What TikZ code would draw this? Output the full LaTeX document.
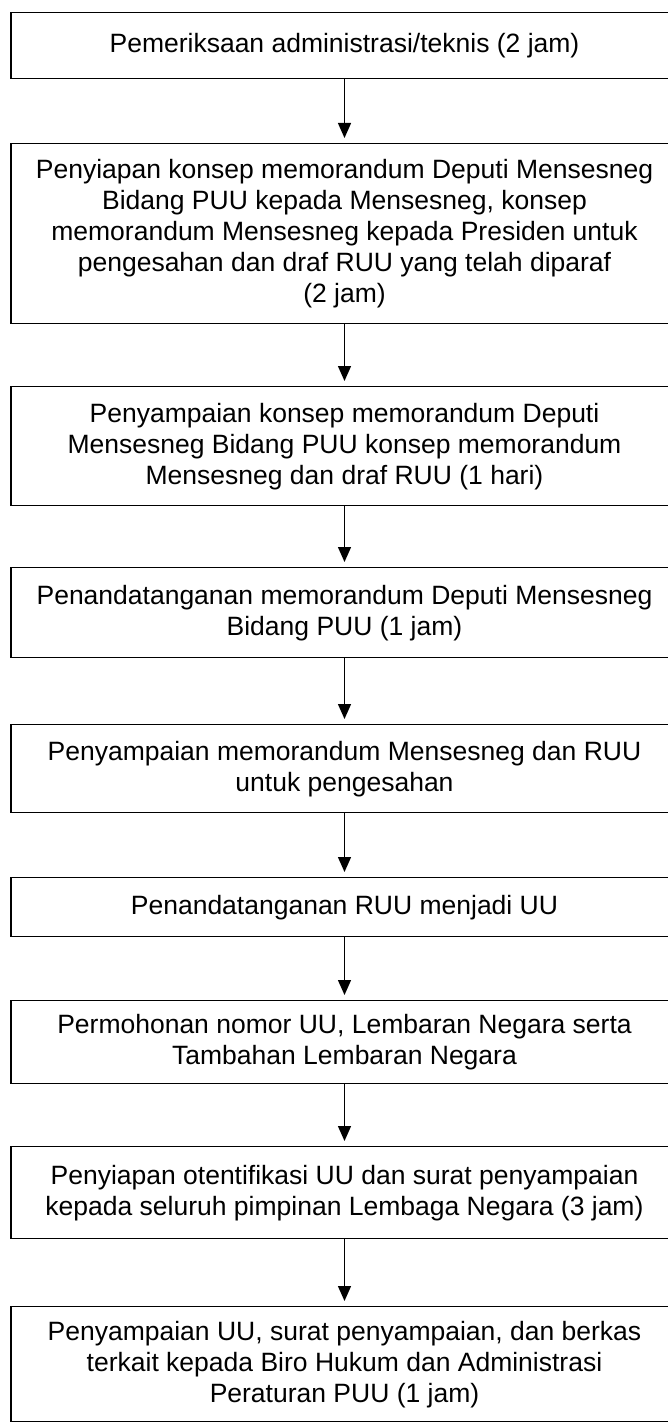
\documentclass[tikz,border=0pt]{standalone}
\usepackage{fontspec}
\setmainfont{Liberation Sans}
\usetikzlibrary{arrows.meta}
\begin{document}
\begin{tikzpicture}[x=1pt,y=1pt,
  box/.style={draw, line width=1.4pt, rectangle, minimum width=667pt, inner sep=0pt,
    align=center, anchor=north, font=\fontsize{26.5}{31}\selectfont},
  flow/.style={-{Triangle[length=15pt,width=13pt]}, line width=1.3pt, shorten >=5pt}]
\useasboundingbox (0,0) rectangle (667,-1423);
\node[box, minimum height=66pt] (b1) at (344.5,-12) {Pemeriksaan administrasi/teknis (2 jam)};
\node[box, minimum height=180pt] (b2) at (344.5,-143) {Penyiapan konsep memorandum Deputi Mensesneg\\Bidang PUU kepada Mensesneg, konsep\\memorandum Mensesneg kepada Presiden untuk\\pengesahan dan draf RUU yang telah diparaf\\(2 jam)};
\node[box, minimum height=119pt] (b3) at (344.5,-386) {Penyampaian konsep memorandum Deputi\\Mensesneg Bidang PUU konsep memorandum\\Mensesneg dan draf RUU (1 hari)};
\node[box, minimum height=90pt] (b4) at (344.5,-567) {Penandatanganan memorandum Deputi Mensesneg\\Bidang PUU (1 jam)};
\node[box, minimum height=88pt] (b5) at (344.5,-724) {Penyampaian memorandum Mensesneg dan RUU\\untuk pengesahan};
\node[box, minimum height=59pt] (b6) at (344.5,-877) {Penandatanganan RUU menjadi UU};
\node[box, minimum height=83pt] (b7) at (344.5,-1000) {Permohonan nomor UU, Lembaran Negara serta\\Tambahan Lembaran Negara};
\node[box, minimum height=92pt] (b8) at (344.5,-1146) {Penyiapan otentifikasi UU dan surat penyampaian\\kepada seluruh pimpinan Lembaga Negara (3 jam)};
\node[box, minimum height=115pt] (b9) at (344.5,-1306) {Penyampaian UU, surat penyampaian, dan berkas\\terkait kepada Biro Hukum dan Administrasi\\Peraturan PUU (1 jam)};
\draw[flow] (b1.south) -- (b2.north);
\draw[flow] (b2.south) -- (b3.north);
\draw[flow] (b3.south) -- (b4.north);
\draw[flow] (b4.south) -- (b5.north);
\draw[flow] (b5.south) -- (b6.north);
\draw[flow] (b6.south) -- (b7.north);
\draw[flow] (b7.south) -- (b8.north);
\draw[flow] (b8.south) -- (b9.north);
\end{tikzpicture}
\end{document}
